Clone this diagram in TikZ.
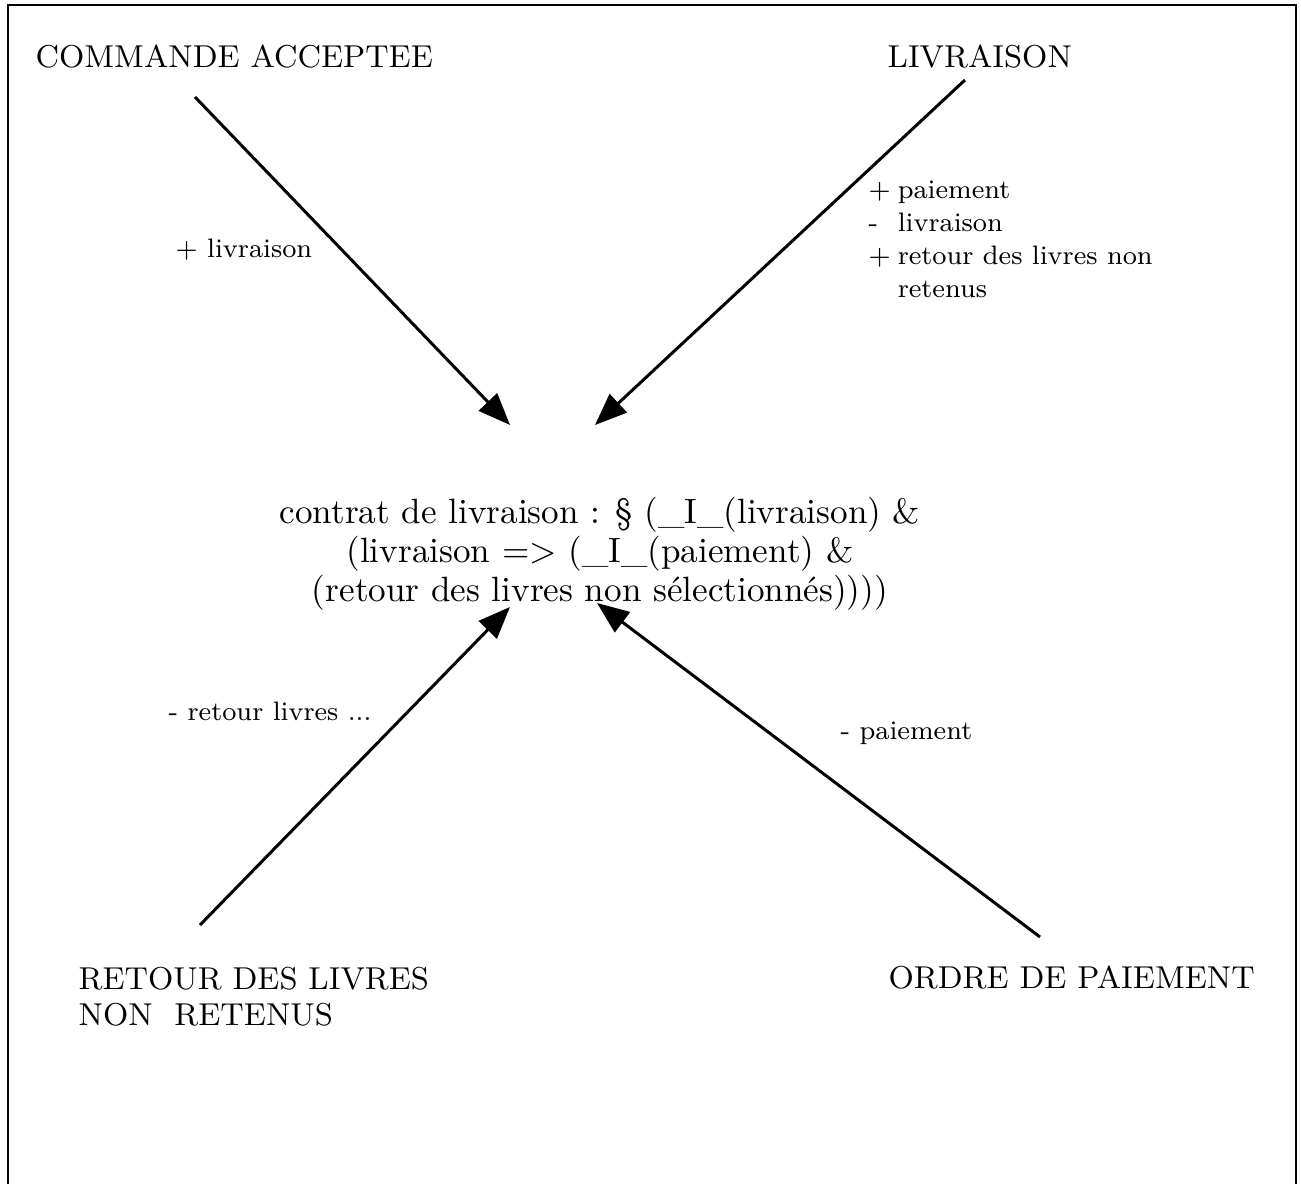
\documentclass[tikz,border=0pt]{standalone}
\usetikzlibrary{arrows.meta}

\tikzset{
  etat/.style={inner sep=0pt, font=\fontsize{9}{10.3}\selectfont, align=left},
  trans/.style={inner sep=0pt, font=\fontsize{7.6}{9.4}\selectfont, align=left},
  fleche/.style={-{Triangle[length=3.2mm,width=2.5mm]}, line width=0.85pt}
}

\begin{document}
\begin{tikzpicture}

\useasboundingbox (0,0) rectangle (13.01,-11.84);

% --- Cadre (ouvert en bas) ---
\draw[line width=0.6pt] (0.08,-11.84) -- (0.08,-0.05) -- (12.96,-0.05) -- (12.96,-11.84);

% --- Etats ---
\node[etat, anchor=west] (cmd) at (0.35,-0.57) {COMMANDE ACCEPTEE};
\node[etat, anchor=west] (livr) at (8.87,-0.57) {LIVRAISON};
\node[etat, anchor=west] (ret) at (0.78,-9.97) {RETOUR DES LIVRES\\NON\ \ RETENUS};
\node[etat, anchor=west] (ordre) at (8.88,-9.78) {ORDRE DE PAIEMENT};

% --- Contrat ---
\node[inner sep=0pt, align=center, font=\fontsize{10}{11.1}\selectfont] (contrat) at (6.0,-5.54)
  {contrat de livraison : \S{} (\_I\_(livraison) \&\\
   (livraison => (\_I\_(paiement) \&\\
   (retour des livres non sélectionnés))))};

% --- Extremites des fleches ---
\coordinate (cmdpt) at (1.95,-0.97);
\coordinate (livrpt) at (9.65,-0.80);
\coordinate (retpt) at (2.00,-9.25);
\coordinate (ordrept) at (10.40,-9.37);
\coordinate (hautG) at (5.10,-4.25);
\coordinate (hautD) at (5.95,-4.25);
\coordinate (basG) at (5.10,-6.07);
\coordinate (basD) at (5.97,-6.03);

\draw[fleche] (cmdpt) -- (hautG);
\draw[fleche] (livrpt) -- (hautD);
\draw[fleche] (retpt) -- (basG);
\draw[fleche] (ordrept) -- (basD);

% --- Etiquettes ---
\node[trans, anchor=west] (t1) at (1.75,-2.50) {+ livraison};
\node[trans, anchor=west] (t2) at (8.68,-2.41)
  {\begin{tabular}{@{}l@{\hspace{2pt}}l@{}}
   + & paiement\\
   - & livraison\\
   + & retour des livres non\\
     & retenus
   \end{tabular}};
\node[trans, anchor=west] (t3) at (1.68,-7.11) {- retour livres ...};
\node[trans, anchor=west] (t4) at (8.40,-7.33) {- paiement};

\end{tikzpicture}
\end{document}
